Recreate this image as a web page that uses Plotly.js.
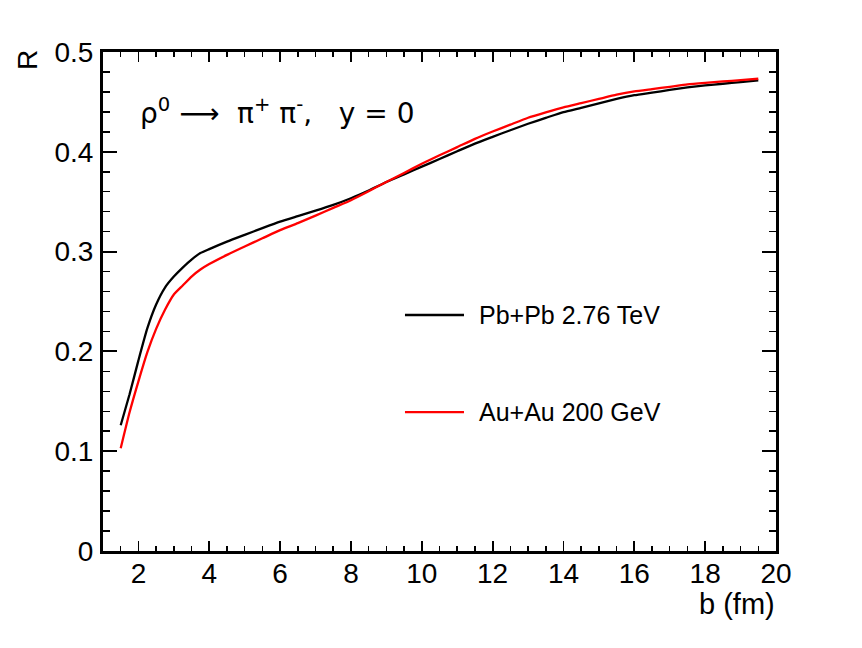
<!DOCTYPE html>
<html>
<head>
<meta charset="utf-8">
<script src="https://cdn.plot.ly/plotly-3.0.1.min.js"></script>
<style>
  html, body { margin: 0; padding: 0; background: #ffffff; }
  #chart { width: 862px; height: 648px; }
</style>
</head>
<body>
<div id="chart"></div>
<script>
// impact parameter b (fm)
const bValues = [1.5, 1.75, 2.0, 2.25, 2.5, 2.75, 3.0, 3.25, 3.5, 3.75, 4.0, 4.5, 5.0, 5.5, 6.0, 6.5, 7.0, 7.5, 8.0, 8.5, 9.0, 9.5, 10.0, 10.5, 11.0, 11.5, 12.0, 12.5, 13.0, 13.5, 14.0, 14.5, 15.0, 15.5, 16.0, 16.5, 17.0, 17.5, 18.0, 18.5, 19.0, 19.5];

// R for Pb+Pb 2.76 TeV (black)
const rPbPb = [0.126, 0.157, 0.191, 0.223, 0.247, 0.264, 0.275, 0.284, 0.292, 0.2985, 0.3025, 0.310, 0.3168, 0.3235, 0.330, 0.3355, 0.341, 0.3468, 0.3535, 0.3612, 0.3697, 0.3774, 0.3851, 0.3928, 0.4005, 0.4082, 0.415, 0.4216, 0.4281, 0.434, 0.4398, 0.4441, 0.4486, 0.453, 0.4567, 0.4593, 0.462, 0.4646, 0.4666, 0.4682, 0.4699, 0.4715];

// R for Au+Au 200 GeV (red)
const rAuAu = [0.103, 0.139, 0.170, 0.199, 0.2226, 0.2417, 0.257, 0.266, 0.275, 0.282, 0.2875, 0.2967, 0.3051, 0.3133, 0.3215, 0.3285, 0.336, 0.3438, 0.3515, 0.3605, 0.3698, 0.3788, 0.388, 0.3965, 0.4047, 0.413, 0.4203, 0.4272, 0.4341, 0.4395, 0.4446, 0.4488, 0.453, 0.4572, 0.4605, 0.4628, 0.4651, 0.4675, 0.4691, 0.4705, 0.4718, 0.4732];

const seriesNames = ['Pb+Pb 2.76 TeV', 'Au+Au 200 GeV'];
const seriesColors = ['#000000', '#ff0000'];

const xTickVals = [2, 4, 6, 8, 10, 12, 14, 16, 18, 20];
const yTickVals = [0, 0.1, 0.2, 0.3, 0.4, 0.5];
const yTickText = ['0', '0.1', '0.2', '0.3', '0.4', '0.5'];

const FONT = 'Liberation Sans, Arial, Helvetica, sans-serif';
const NB = '\u00A0';

const traces = [
  { x: bValues, y: rPbPb, name: seriesNames[0], type: 'scatter', mode: 'lines',
    line: { color: seriesColors[0], width: 2.3, shape: 'spline', smoothing: 0.5 }, showlegend: false },
  { x: bValues, y: rAuAu, name: seriesNames[1], type: 'scatter', mode: 'lines',
    line: { color: seriesColors[1], width: 2.3, shape: 'spline', smoothing: 0.5 }, showlegend: false }
];

const legendY = [0.4729, 0.2783];
const legX0 = 0.4487, legX1 = 0.5364, legTextX = 0.5572;

const shapes = seriesNames.map((n, i) => ({
  type: 'line', xref: 'paper', yref: 'paper',
  x0: legX0, x1: legX1, y0: legendY[i], y1: legendY[i],
  line: { color: seriesColors[i], width: 2.3 }
}));

const annotations = seriesNames.map((n, i) => ({
  text: n, xref: 'paper', yref: 'paper', x: legTextX, y: legendY[i],
  xanchor: 'left', yanchor: 'middle', showarrow: false, borderpad: 0,
  font: { family: FONT, size: 25, color: '#000' }
}));

annotations.push({
  text: 'ρ<sup>0</sup>' + NB + '⟶' + NB + NB + 'π<sup>+</sup>' + NB + 'π<sup>-</sup>,' + NB + NB + NB + 'y' + NB + '=' + NB + '0',
  xref: 'paper', yref: 'paper', x: 0.054, y: 0.88,
  xanchor: 'left', yanchor: 'middle', showarrow: false, borderpad: 0,
  font: { family: 'DejaVu Sans, sans-serif', size: 28, color: '#000' }
});
annotations.push({
  text: 'R', xref: 'paper', yref: 'paper', x: -0.1114, y: 0.984,
  xanchor: 'center', yanchor: 'middle', textangle: -90, showarrow: false,
  font: { family: FONT, size: 28, color: '#000' }
});
annotations.push({
  text: 'b (fm)', xref: 'paper', yref: 'paper', x: 1.0, y: -0.106,
  xanchor: 'right', yanchor: 'middle', showarrow: false, borderpad: 0,
  font: { family: FONT, size: 29, color: '#000' }
});

const layout = {
  width: 862, height: 648,
  margin: { l: 103, r: 86, t: 52, b: 97, pad: 0 },
  paper_bgcolor: '#ffffff', plot_bgcolor: '#ffffff',
  showlegend: false,
  font: { family: FONT, size: 27, color: '#000' },
  xaxis: {
    range: [1, 20], tickvals: xTickVals, ticktext: xTickVals.map(String),
    ticks: 'inside', ticklen: 10, tickwidth: 1.8, tickcolor: '#000',
    showline: true, linewidth: 3, linecolor: '#000', mirror: 'ticks',
    showgrid: false, zeroline: false,
    tickfont: { family: FONT, size: 28, color: '#000' },
    ticklabelstandoff: -5,
    minor: { dtick: 0.5, tick0: 0, ticks: 'inside', ticklen: 5, tickwidth: 1.5, tickcolor: '#000', showgrid: false }
  },
  yaxis: {
    range: [0, 0.5], tickvals: yTickVals, ticktext: yTickText,
    ticks: 'inside', ticklen: 14, tickwidth: 1.8, tickcolor: '#000',
    showline: true, linewidth: 3, linecolor: '#000', mirror: 'ticks',
    showgrid: false, zeroline: false,
    tickfont: { family: FONT, size: 28, color: '#000' },
    ticklabelstandoff: 1,
    minor: { dtick: 0.02, tick0: 0, ticks: 'inside', ticklen: 7, tickwidth: 1.5, tickcolor: '#000', showgrid: false }
  },
  shapes: shapes,
  annotations: annotations
};

Plotly.newPlot('chart', traces, layout, { staticPlot: true, displayModeBar: false });
</script>
</body>
</html>
